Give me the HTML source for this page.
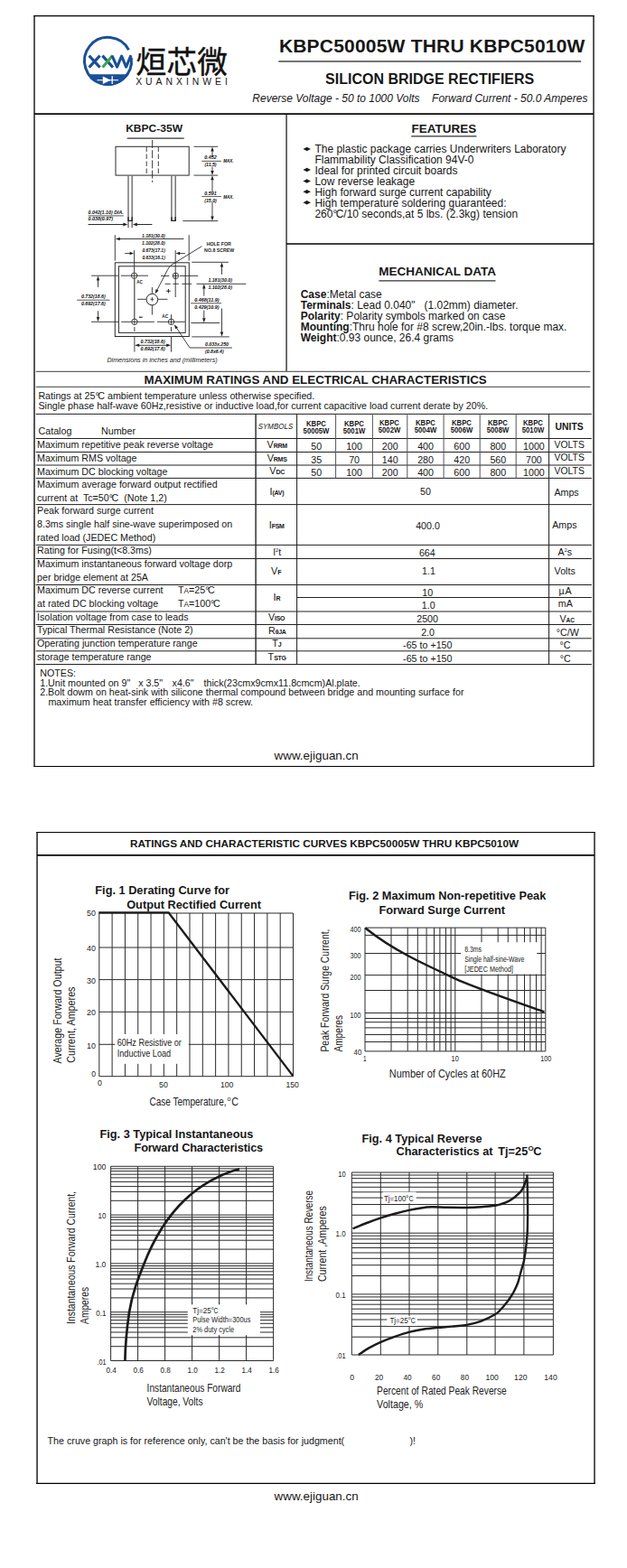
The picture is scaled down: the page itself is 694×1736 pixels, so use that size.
<!DOCTYPE html>
<html lang="en"><head><meta charset="utf-8"><title>KBPC50005W THRU KBPC5010W</title>
<style>
html,body{margin:0;padding:0;background:#fff}
body{width:694px;height:1736px;position:relative;overflow:hidden;font-family:"Liberation Sans",sans-serif;color:#161616}
.t{position:absolute;white-space:pre;line-height:1;margin:0;padding:0}
svg{position:absolute;left:0;top:0}
svg text{font-family:"Liberation Sans",sans-serif}
</style></head>
<body>
<svg width="694" height="1736" viewBox="0 0 694 1736">
<line x1="37.30" y1="17.55" x2="657.80" y2="17.55" stroke="#000" stroke-width="1.15"/>
<line x1="37.30" y1="848.45" x2="657.80" y2="848.45" stroke="#000" stroke-width="1.15"/>
<line x1="38.00" y1="17.00" x2="38.00" y2="849.00" stroke="#000" stroke-width="1.32"/>
<line x1="657.05" y1="17.00" x2="657.05" y2="849.00" stroke="#000" stroke-width="1.32"/>
<line x1="38.00" y1="126.10" x2="657.00" y2="126.10" stroke="#0a0a0a" stroke-width="1.6"/>
<line x1="317.05" y1="126.50" x2="317.05" y2="411.30" stroke="#000" stroke-width="1.15"/>
<line x1="317.05" y1="270.00" x2="657.00" y2="270.00" stroke="#000" stroke-width="1.4"/>
<line x1="39.70" y1="411.30" x2="653.30" y2="411.30" stroke="#666" stroke-width="1.3"/>
<line x1="39.70" y1="428.40" x2="653.30" y2="428.40" stroke="#666" stroke-width="1.3"/>
<g><path d="M145.25,63.78 A26.0,26.0 0 1 1 142.46,55.19" fill="none" stroke="#1c4f96" stroke-width="3.0"/><path d="M96.39,82.3 L142.61,82.3 A27.5,27.5 0 0 1 96.39,82.3 Z" fill="#1c4f96"/><line x1="107.50" y1="88.70" x2="131.00" y2="88.70" stroke="#fff" stroke-width="1.1"/><polygon points="113.8,84.4 113.8,93.0 122.6,88.7" fill="#fff"/><line x1="124.20" y1="84.30" x2="124.20" y2="93.10" stroke="#fff" stroke-width="1.3"/><path d="M98.6,61.6 L110.6,74.6 M110.6,61.6 L98.6,74.6" stroke="#1c4f96" stroke-width="3.1" fill="none"/><path d="M113.4,61.6 L125.0,74.6" stroke="#1c4f96" stroke-width="3.1" fill="none"/><path d="M124.6,61.6 L113.6,74.6" stroke="#3aa84a" stroke-width="3.1" fill="none"/><path d="M124.0,61.6 L129.6,74.1 L134.6,62.1 L139.6,74.1 L145.0,61.1" stroke="#1c4f96" stroke-width="3.1" fill="none" stroke-linejoin="round"/></g>
<text x="150.4 184.4 218.2" y="81.2" font-size="33.6" fill="#111" stroke="#111" stroke-width="0.44" style='font-family:"Liberation Sans","Noto Sans CJK SC",sans-serif'>烜芯微</text>
<text x="150.20" y="93.60" font-size="10.4" fill="#151515" letter-spacing="3.98">XUANXINWEI</text>
<line x1="308.30" y1="68.00" x2="643.20" y2="68.00" stroke="#444" stroke-width="1.4"/>
<g font-family='"Liberation Sans", sans-serif'><text x="139.20" y="145.70" font-size="11.8" font-weight="bold" textLength="62.80" lengthAdjust="spacingAndGlyphs" fill="#161616">KBPC-35W</text><line x1="140.70" y1="153.10" x2="203.70" y2="153.10" stroke="#333" stroke-width="1.1"/><rect x="128.00" y="162.30" width="81.20" height="31.80" stroke="#2a2a2a" stroke-width="1" fill="none"/><line x1="162.20" y1="162.50" x2="162.20" y2="194.00" stroke="#2a2a2a" stroke-width="0.9" stroke-dasharray="5.5 2.5"/><line x1="175.30" y1="162.50" x2="175.30" y2="194.00" stroke="#2a2a2a" stroke-width="0.9" stroke-dasharray="5.5 2.5"/><line x1="168.60" y1="155.00" x2="168.60" y2="201.90" stroke="#2a2a2a" stroke-width="0.9" stroke-dasharray="9 2.2"/><line x1="142.00" y1="194.60" x2="142.00" y2="252.30" stroke="#747474" stroke-width="1.5"/><line x1="146.20" y1="194.60" x2="146.20" y2="252.30" stroke="#747474" stroke-width="1.5"/><path d="M142.0,240.2 L142.0,244.4 L146.2,244.4 L146.2,240.2" fill="none" stroke="#222" stroke-width="1.3"/><line x1="189.90" y1="194.60" x2="189.90" y2="244.60" stroke="#747474" stroke-width="1.5"/><line x1="194.20" y1="194.60" x2="194.20" y2="244.60" stroke="#747474" stroke-width="1.5"/><path d="M189.9,240.2 L189.9,244.4 L194.2,244.4 L194.2,240.2" fill="none" stroke="#222" stroke-width="1.3"/><line x1="97.60" y1="248.50" x2="137.50" y2="248.50" stroke="#2a2a2a" stroke-width="1.0"/><polygon points="141.20,248.50 136.40,250.50 136.40,246.50" fill="#222"/><line x1="151.00" y1="248.50" x2="168.40" y2="248.50" stroke="#2a2a2a" stroke-width="1.0"/><polygon points="147.00,248.50 151.80,246.50 151.80,250.50" fill="#222"/><text x="97.60" y="237.20" font-size="5.5" font-weight="bold" font-style="italic" textLength="39.20" lengthAdjust="spacingAndGlyphs" fill="#0c0c0c">0.042(1.10) DIA.</text><line x1="97.60" y1="238.90" x2="136.80" y2="238.90" stroke="#2a2a2a" stroke-width="0.8"/><text x="97.60" y="244.30" font-size="5.5" font-weight="bold" font-style="italic" textLength="27.50" lengthAdjust="spacingAndGlyphs" fill="#0c0c0c">0.038(0.97)</text><line x1="214.50" y1="162.30" x2="241.20" y2="162.30" stroke="#2a2a2a" stroke-width="0.9"/><line x1="214.50" y1="194.10" x2="241.20" y2="194.10" stroke="#2a2a2a" stroke-width="0.9"/><line x1="202.30" y1="244.60" x2="241.20" y2="244.60" stroke="#2a2a2a" stroke-width="0.9"/><line x1="235.00" y1="165.00" x2="235.00" y2="174.00" stroke="#2a2a2a" stroke-width="0.9"/><polygon points="235.00,162.50 236.75,167.50 233.25,167.50" fill="#222"/><line x1="235.00" y1="184.50" x2="235.00" y2="191.00" stroke="#2a2a2a" stroke-width="0.9"/><polygon points="235.00,193.90 233.25,188.90 236.75,188.90" fill="#222"/><line x1="235.00" y1="197.00" x2="235.00" y2="212.50" stroke="#2a2a2a" stroke-width="0.9"/><polygon points="235.00,194.30 236.75,199.30 233.25,199.30" fill="#222"/><line x1="235.00" y1="224.00" x2="235.00" y2="242.00" stroke="#2a2a2a" stroke-width="0.9"/><polygon points="235.00,244.40 233.25,239.40 236.75,239.40" fill="#222"/><line x1="223.30" y1="178.40" x2="244.90" y2="178.40" stroke="#2a2a2a" stroke-width="0.8"/><text x="226.20" y="175.90" font-size="5.5" font-weight="bold" font-style="italic" textLength="13.50" lengthAdjust="spacingAndGlyphs" fill="#0c0c0c">0.452</text><text x="226.40" y="184.40" font-size="5.5" font-weight="bold" font-style="italic" textLength="13.20" lengthAdjust="spacingAndGlyphs" fill="#0c0c0c">(11.5)</text><text x="247.20" y="180.40" font-size="5.5" font-weight="bold" font-style="italic" textLength="11.50" lengthAdjust="spacingAndGlyphs" fill="#0c0c0c">MAX.</text><line x1="223.30" y1="217.60" x2="244.90" y2="217.60" stroke="#2a2a2a" stroke-width="0.8"/><text x="226.20" y="215.80" font-size="5.5" font-weight="bold" font-style="italic" textLength="13.50" lengthAdjust="spacingAndGlyphs" fill="#0c0c0c">0.591</text><text x="226.20" y="223.60" font-size="5.5" font-weight="bold" font-style="italic" textLength="13.60" lengthAdjust="spacingAndGlyphs" fill="#0c0c0c">(15.0)</text><text x="247.20" y="219.60" font-size="5.5" font-weight="bold" font-style="italic" textLength="11.50" lengthAdjust="spacingAndGlyphs" fill="#0c0c0c">MAX.</text><rect x="127.30" y="290.80" width="82.00" height="81.70" stroke="#2a2a2a" stroke-width="1" fill="none"/><rect x="131.40" y="294.80" width="73.80" height="73.60" stroke="#2a2a2a" stroke-width="1" fill="none"/><line x1="127.30" y1="260.20" x2="127.30" y2="288.70" stroke="#2a2a2a" stroke-width="0.9"/><line x1="209.20" y1="260.20" x2="209.20" y2="288.70" stroke="#2a2a2a" stroke-width="0.9"/><line x1="132.50" y1="264.50" x2="203.40" y2="264.50" stroke="#2a2a2a" stroke-width="0.9"/><polygon points="127.80,264.50 132.80,262.75 132.80,266.25" fill="#222"/><text x="157.00" y="262.80" font-size="5.5" font-weight="bold" font-style="italic" textLength="25.60" lengthAdjust="spacingAndGlyphs" fill="#0c0c0c">1.181(30.0)</text><text x="157.00" y="270.90" font-size="5.5" font-weight="bold" font-style="italic" textLength="25.60" lengthAdjust="spacingAndGlyphs" fill="#0c0c0c">1.102(28.0)</text><line x1="138.20" y1="280.60" x2="144.50" y2="280.60" stroke="#2a2a2a" stroke-width="0.9"/><polygon points="148.10,280.60 143.60,282.35 143.60,278.85" fill="#222"/><line x1="198.00" y1="280.60" x2="204.90" y2="280.60" stroke="#2a2a2a" stroke-width="0.9"/><polygon points="194.60,280.60 199.10,278.85 199.10,282.35" fill="#222"/><text x="157.40" y="278.90" font-size="5.5" font-weight="bold" font-style="italic" textLength="25.40" lengthAdjust="spacingAndGlyphs" fill="#0c0c0c">0.673(17.1)</text><text x="157.40" y="287.00" font-size="5.5" font-weight="bold" font-style="italic" textLength="25.40" lengthAdjust="spacingAndGlyphs" fill="#0c0c0c">0.633(16.1)</text><line x1="148.60" y1="277.10" x2="148.60" y2="301.80" stroke="#2a2a2a" stroke-width="0.9"/><line x1="148.80" y1="308.40" x2="148.80" y2="353.00" stroke="#555" stroke-width="1.3"/><line x1="194.20" y1="277.10" x2="194.20" y2="329.00" stroke="#2a2a2a" stroke-width="0.9"/><line x1="189.50" y1="348.20" x2="189.50" y2="353.00" stroke="#2a2a2a" stroke-width="0.9"/><circle cx="148.6" cy="305.2" r="3.2" fill="none" stroke="#2a2a2a" stroke-width="0.9"/><line x1="148.60" y1="302.00" x2="148.60" y2="308.40" stroke="#2a2a2a" stroke-width="0.8"/><circle cx="194.4" cy="305.4" r="3.2" fill="none" stroke="#2a2a2a" stroke-width="0.9"/><line x1="194.40" y1="302.20" x2="194.40" y2="308.60" stroke="#2a2a2a" stroke-width="0.8"/><circle cx="148.9" cy="356.3" r="3.2" fill="none" stroke="#2a2a2a" stroke-width="0.9"/><line x1="148.90" y1="353.10" x2="148.90" y2="359.50" stroke="#2a2a2a" stroke-width="0.8"/><circle cx="189.5" cy="356.3" r="3.2" fill="none" stroke="#2a2a2a" stroke-width="0.9"/><line x1="189.50" y1="353.10" x2="189.50" y2="359.50" stroke="#2a2a2a" stroke-width="0.8"/><line x1="101.10" y1="305.20" x2="130.80" y2="305.20" stroke="#2a2a2a" stroke-width="0.9"/><line x1="134.00" y1="305.20" x2="164.00" y2="305.20" stroke="#2a2a2a" stroke-width="0.9"/><line x1="178.00" y1="305.40" x2="187.30" y2="305.40" stroke="#2a2a2a" stroke-width="0.9"/><line x1="191.20" y1="305.40" x2="197.60" y2="305.40" stroke="#2a2a2a" stroke-width="0.9"/><line x1="199.00" y1="305.40" x2="219.30" y2="305.40" stroke="#2a2a2a" stroke-width="0.9"/><line x1="182.60" y1="314.30" x2="188.70" y2="314.30" stroke="#2a2a2a" stroke-width="0.9"/><line x1="191.30" y1="314.30" x2="197.80" y2="314.30" stroke="#2a2a2a" stroke-width="0.9"/><line x1="201.30" y1="314.30" x2="212.20" y2="314.30" stroke="#2a2a2a" stroke-width="0.9"/><line x1="217.50" y1="314.30" x2="272.30" y2="314.30" stroke="#2a2a2a" stroke-width="0.9"/><line x1="101.10" y1="356.30" x2="131.20" y2="356.30" stroke="#2a2a2a" stroke-width="0.9"/><line x1="134.20" y1="356.30" x2="170.90" y2="356.30" stroke="#2a2a2a" stroke-width="0.9"/><line x1="174.00" y1="356.30" x2="204.80" y2="356.30" stroke="#2a2a2a" stroke-width="0.9"/><line x1="211.30" y1="357.50" x2="243.10" y2="357.50" stroke="#2a2a2a" stroke-width="0.9"/><circle cx="168.4" cy="331.6" r="6.3" fill="none" stroke="#2a2a2a" stroke-width="1"/><line x1="168.40" y1="318.10" x2="168.40" y2="325.00" stroke="#2a2a2a" stroke-width="0.9"/><line x1="168.40" y1="337.60" x2="168.40" y2="348.50" stroke="#2a2a2a" stroke-width="0.9"/><line x1="152.20" y1="331.30" x2="162.10" y2="331.30" stroke="#2a2a2a" stroke-width="0.9"/><line x1="174.70" y1="331.30" x2="185.50" y2="331.30" stroke="#2a2a2a" stroke-width="0.9"/><line x1="166.40" y1="331.30" x2="170.40" y2="331.30" stroke="#2a2a2a" stroke-width="0.8"/><line x1="168.40" y1="329.00" x2="168.40" y2="333.60" stroke="#2a2a2a" stroke-width="0.8"/><text x="151.20" y="314.20" font-size="5.4" font-weight="bold" textLength="6.50" lengthAdjust="spacingAndGlyphs" fill="#222">AC</text><text x="179.20" y="352.20" font-size="5.4" font-weight="bold" textLength="6.90" lengthAdjust="spacingAndGlyphs" fill="#222">AC</text><line x1="184.10" y1="322.20" x2="188.70" y2="322.20" stroke="#223" stroke-width="1.0"/><line x1="186.40" y1="320.00" x2="186.40" y2="324.40" stroke="#223" stroke-width="1.0"/><line x1="153.90" y1="351.20" x2="157.70" y2="351.20" stroke="#223" stroke-width="1.2"/><path d="M223.4,272.6 L190.0,293.2 Q187.3,295.0 185.6,298.5 L173.2,322.4" fill="none" stroke="#2a2a2a" stroke-width="0.9"/><polygon points="171.70,325.30 172.50,320.08 175.52,321.65" fill="#222"/><text x="228.70" y="271.90" font-size="5.4" font-weight="bold" textLength="27.20" lengthAdjust="spacingAndGlyphs" fill="#222">HOLE FOR</text><text x="226.10" y="278.70" font-size="5.4" font-weight="bold" textLength="33.20" lengthAdjust="spacingAndGlyphs" fill="#222">NO.8 SCREW</text><line x1="212.30" y1="290.30" x2="252.90" y2="290.30" stroke="#2a2a2a" stroke-width="0.9"/><line x1="211.10" y1="335.80" x2="245.10" y2="335.80" stroke="#2a2a2a" stroke-width="0.8"/><line x1="212.30" y1="372.90" x2="253.80" y2="372.90" stroke="#2a2a2a" stroke-width="0.9"/><line x1="245.50" y1="293.50" x2="245.50" y2="303.90" stroke="#2a2a2a" stroke-width="0.9"/><polygon points="245.50,290.60 247.25,295.60 243.75,295.60" fill="#222"/><line x1="245.50" y1="341.50" x2="245.50" y2="369.50" stroke="#2a2a2a" stroke-width="0.9"/><polygon points="245.50,372.60 243.75,367.60 247.25,367.60" fill="#222"/><line x1="225.80" y1="317.50" x2="225.80" y2="327.60" stroke="#2a2a2a" stroke-width="0.9"/><polygon points="225.80,314.60 227.55,319.60 224.05,319.60" fill="#222"/><line x1="225.80" y1="343.50" x2="225.80" y2="354.00" stroke="#2a2a2a" stroke-width="0.9"/><polygon points="225.80,357.20 224.05,352.20 227.55,352.20" fill="#222"/><text x="230.40" y="312.10" font-size="5.5" font-weight="bold" font-style="italic" textLength="26.50" lengthAdjust="spacingAndGlyphs" fill="#0c0c0c">1.181(30.0)</text><text x="230.40" y="320.20" font-size="5.5" font-weight="bold" font-style="italic" textLength="26.50" lengthAdjust="spacingAndGlyphs" fill="#0c0c0c">1.102(28.0)</text><text x="215.20" y="334.00" font-size="5.5" font-weight="bold" font-style="italic" textLength="27.40" lengthAdjust="spacingAndGlyphs" fill="#0c0c0c">0.468(11.9)</text><text x="215.20" y="342.00" font-size="5.5" font-weight="bold" font-style="italic" textLength="27.40" lengthAdjust="spacingAndGlyphs" fill="#0c0c0c">0.429(10.9)</text><line x1="108.50" y1="308.50" x2="108.50" y2="317.90" stroke="#2a2a2a" stroke-width="0.9"/><polygon points="108.50,305.50 110.25,310.50 106.75,310.50" fill="#222"/><line x1="108.50" y1="344.30" x2="108.50" y2="353.00" stroke="#2a2a2a" stroke-width="0.9"/><polygon points="108.50,356.00 106.75,351.00 110.25,351.00" fill="#222"/><line x1="85.20" y1="332.20" x2="121.50" y2="332.20" stroke="#2a2a2a" stroke-width="0.8"/><text x="89.90" y="329.70" font-size="5.5" font-weight="bold" font-style="italic" textLength="26.90" lengthAdjust="spacingAndGlyphs" fill="#0c0c0c">0.732(18.6)</text><text x="89.90" y="337.80" font-size="5.5" font-weight="bold" font-style="italic" textLength="26.90" lengthAdjust="spacingAndGlyphs" fill="#0c0c0c">0.692(17.6)</text><line x1="148.90" y1="362.00" x2="148.90" y2="367.00" stroke="#2a2a2a" stroke-width="0.9"/><line x1="148.90" y1="372.50" x2="148.90" y2="389.60" stroke="#2a2a2a" stroke-width="0.9"/><line x1="189.50" y1="362.00" x2="189.50" y2="367.00" stroke="#2a2a2a" stroke-width="0.9"/><line x1="189.50" y1="372.50" x2="189.50" y2="389.60" stroke="#2a2a2a" stroke-width="0.9"/><line x1="152.50" y1="382.30" x2="186.00" y2="382.30" stroke="#2a2a2a" stroke-width="0.9"/><polygon points="149.20,382.30 154.20,380.55 154.20,384.05" fill="#222"/><polygon points="189.20,382.30 184.20,384.05 184.20,380.55" fill="#222"/><text x="155.50" y="380.00" font-size="5.5" font-weight="bold" font-style="italic" textLength="27.30" lengthAdjust="spacingAndGlyphs" fill="#0c0c0c">0.732(18.6)</text><text x="155.50" y="387.90" font-size="5.5" font-weight="bold" font-style="italic" textLength="27.30" lengthAdjust="spacingAndGlyphs" fill="#0c0c0c">0.692(17.6)</text><path d="M195.3,362.8 L210.0,385.0 L256.9,385.0" fill="none" stroke="#2a2a2a" stroke-width="0.9"/><polygon points="192.80,359.20 196.98,362.43 194.14,364.31" fill="#222"/><text x="227.00" y="383.00" font-size="5.5" font-weight="bold" font-style="italic" textLength="25.90" lengthAdjust="spacingAndGlyphs" fill="#0c0c0c">0.033x.250</text><text x="227.00" y="390.80" font-size="5.5" font-weight="bold" font-style="italic" textLength="20.70" lengthAdjust="spacingAndGlyphs" fill="#0c0c0c">(0.8x6.4)</text><text x="118.40" y="400.80" font-size="7.1" font-style="italic" textLength="122.20" lengthAdjust="spacingAndGlyphs" fill="#1a1a1a">Dimensions in inches and (millimeters)</text></g>
<line x1="455.20" y1="150.90" x2="527.50" y2="150.90" stroke="#333" stroke-width="1.4"/>
<path d="M335.4,164.90 L338.0,163.65 L339.7,162.65 L341.4,163.65 L344.0,164.90 L341.4,166.15 L339.7,167.15 L338.0,166.15 Z" fill="#1a1a1a"/>
<path d="M335.4,187.90 L338.0,186.65 L339.7,185.65 L341.4,186.65 L344.0,187.90 L341.4,189.15 L339.7,190.15 L338.0,189.15 Z" fill="#1a1a1a"/>
<path d="M335.4,200.40 L338.0,199.15 L339.7,198.15 L341.4,199.15 L344.0,200.40 L341.4,201.65 L339.7,202.65 L338.0,201.65 Z" fill="#1a1a1a"/>
<path d="M335.4,212.30 L338.0,211.05 L339.7,210.05 L341.4,211.05 L344.0,212.30 L341.4,213.55 L339.7,214.55 L338.0,213.55 Z" fill="#1a1a1a"/>
<path d="M335.4,224.20 L338.0,222.95 L339.7,221.95 L341.4,222.95 L344.0,224.20 L341.4,225.45 L339.7,226.45 L338.0,225.45 Z" fill="#1a1a1a"/>
<line x1="419.40" y1="310.90" x2="548.50" y2="310.90" stroke="#333" stroke-width="1.4"/>
<line x1="39.70" y1="458.40" x2="654.90" y2="458.40" stroke="#222" stroke-width="1.0"/>
<line x1="39.70" y1="485.50" x2="654.90" y2="485.50" stroke="#222" stroke-width="1.0"/>
<line x1="39.70" y1="500.50" x2="654.90" y2="500.50" stroke="#222" stroke-width="1.0"/>
<line x1="39.70" y1="515.00" x2="654.90" y2="515.00" stroke="#222" stroke-width="1.0"/>
<line x1="39.70" y1="529.40" x2="654.90" y2="529.40" stroke="#222" stroke-width="1.0"/>
<line x1="39.70" y1="558.60" x2="654.90" y2="558.60" stroke="#222" stroke-width="1.0"/>
<line x1="39.70" y1="603.40" x2="654.90" y2="603.40" stroke="#222" stroke-width="1.0"/>
<line x1="39.70" y1="618.50" x2="654.90" y2="618.50" stroke="#222" stroke-width="1.0"/>
<line x1="39.70" y1="647.50" x2="654.90" y2="647.50" stroke="#222" stroke-width="1.0"/>
<line x1="39.70" y1="677.00" x2="654.90" y2="677.00" stroke="#222" stroke-width="1.0"/>
<line x1="39.70" y1="691.50" x2="654.90" y2="691.50" stroke="#222" stroke-width="1.0"/>
<line x1="39.70" y1="706.80" x2="654.90" y2="706.80" stroke="#222" stroke-width="1.0"/>
<line x1="39.70" y1="720.80" x2="654.90" y2="720.80" stroke="#222" stroke-width="1.0"/>
<line x1="39.70" y1="735.50" x2="654.90" y2="735.50" stroke="#222" stroke-width="1.0"/>
<line x1="329.00" y1="661.50" x2="654.90" y2="661.50" stroke="#222" stroke-width="1.0"/>
<line x1="283.10" y1="458.40" x2="283.10" y2="735.50" stroke="#222" stroke-width="1.4"/>
<line x1="328.60" y1="458.40" x2="328.60" y2="735.50" stroke="#222" stroke-width="1.05"/>
<line x1="607.60" y1="458.40" x2="607.60" y2="735.50" stroke="#222" stroke-width="1.05"/>
<line x1="371.60" y1="458.40" x2="371.60" y2="529.40" stroke="#555" stroke-width="1"/>
<line x1="412.40" y1="458.40" x2="412.40" y2="529.40" stroke="#555" stroke-width="1"/>
<line x1="450.80" y1="458.40" x2="450.80" y2="529.40" stroke="#555" stroke-width="1"/>
<line x1="491.10" y1="458.40" x2="491.10" y2="529.40" stroke="#555" stroke-width="1"/>
<line x1="531.20" y1="458.40" x2="531.20" y2="529.40" stroke="#555" stroke-width="1"/>
<line x1="571.20" y1="458.40" x2="571.20" y2="529.40" stroke="#555" stroke-width="1"/>
<g font-family='"Liberation Sans", sans-serif'><line x1="40.30" y1="921.45" x2="658.80" y2="921.45" stroke="#000" stroke-width="1.15"/><line x1="40.30" y1="1642.40" x2="658.80" y2="1642.40" stroke="#000" stroke-width="1.15"/><line x1="41.05" y1="921.00" x2="41.05" y2="1643.00" stroke="#000" stroke-width="1.32"/><line x1="658.05" y1="921.00" x2="658.05" y2="1643.00" stroke="#000" stroke-width="1.32"/><line x1="41.00" y1="946.95" x2="658.00" y2="946.95" stroke="#0a0a0a" stroke-width="1.7"/><line x1="109.80" y1="1011.00" x2="109.80" y2="1191.70" stroke="#2b2b2b" stroke-width="1"/><line x1="124.11" y1="1011.00" x2="124.11" y2="1191.70" stroke="#2b2b2b" stroke-width="1"/><line x1="138.43" y1="1011.00" x2="138.43" y2="1145.00" stroke="#2b2b2b" stroke-width="1"/><line x1="138.43" y1="1177.80" x2="138.43" y2="1191.70" stroke="#2b2b2b" stroke-width="1"/><line x1="152.74" y1="1011.00" x2="152.74" y2="1145.00" stroke="#2b2b2b" stroke-width="1"/><line x1="152.74" y1="1177.80" x2="152.74" y2="1191.70" stroke="#2b2b2b" stroke-width="1"/><line x1="167.05" y1="1011.00" x2="167.05" y2="1145.00" stroke="#2b2b2b" stroke-width="1"/><line x1="167.05" y1="1177.80" x2="167.05" y2="1191.70" stroke="#2b2b2b" stroke-width="1"/><line x1="181.37" y1="1011.00" x2="181.37" y2="1145.00" stroke="#2b2b2b" stroke-width="1"/><line x1="181.37" y1="1177.80" x2="181.37" y2="1191.70" stroke="#2b2b2b" stroke-width="1"/><line x1="195.68" y1="1011.00" x2="195.68" y2="1145.00" stroke="#2b2b2b" stroke-width="1"/><line x1="195.68" y1="1177.80" x2="195.68" y2="1191.70" stroke="#2b2b2b" stroke-width="1"/><line x1="209.99" y1="1011.00" x2="209.99" y2="1191.70" stroke="#2b2b2b" stroke-width="1"/><line x1="224.31" y1="1011.00" x2="224.31" y2="1191.70" stroke="#2b2b2b" stroke-width="1"/><line x1="238.62" y1="1011.00" x2="238.62" y2="1191.70" stroke="#2b2b2b" stroke-width="1"/><line x1="252.93" y1="1011.00" x2="252.93" y2="1191.70" stroke="#2b2b2b" stroke-width="1"/><line x1="267.25" y1="1011.00" x2="267.25" y2="1191.70" stroke="#2b2b2b" stroke-width="1"/><line x1="281.56" y1="1011.00" x2="281.56" y2="1191.70" stroke="#2b2b2b" stroke-width="1"/><line x1="295.87" y1="1011.00" x2="295.87" y2="1191.70" stroke="#2b2b2b" stroke-width="1"/><line x1="310.19" y1="1011.00" x2="310.19" y2="1191.70" stroke="#2b2b2b" stroke-width="1"/><line x1="324.50" y1="1011.00" x2="324.50" y2="1191.70" stroke="#2b2b2b" stroke-width="1"/><line x1="109.80" y1="1011.00" x2="324.50" y2="1011.00" stroke="#2b2b2b" stroke-width="1"/><line x1="109.80" y1="1049.00" x2="324.50" y2="1049.00" stroke="#2b2b2b" stroke-width="1"/><line x1="109.80" y1="1084.60" x2="324.50" y2="1084.60" stroke="#2b2b2b" stroke-width="1"/><line x1="109.80" y1="1120.30" x2="324.50" y2="1120.30" stroke="#2b2b2b" stroke-width="1"/><line x1="109.80" y1="1156.30" x2="127.30" y2="1156.30" stroke="#2b2b2b" stroke-width="1"/><line x1="208.80" y1="1156.30" x2="324.50" y2="1156.30" stroke="#2b2b2b" stroke-width="1"/><line x1="109.80" y1="1191.70" x2="324.50" y2="1191.70" stroke="#2b2b2b" stroke-width="1"/><path d="M109.3,1010.4 L186.60,1010.4 L324.20,1191.10" fill="none" stroke="#1c1a1a" stroke-width="2.35" stroke-linejoin="miter"/><text x="106.00" y="1013.80" font-size="9.3" text-anchor="end" textLength="9.90" lengthAdjust="spacingAndGlyphs" fill="#222">50</text><text x="106.00" y="1053.00" font-size="9.3" text-anchor="end" textLength="9.90" lengthAdjust="spacingAndGlyphs" fill="#222">40</text><text x="106.00" y="1088.50" font-size="9.3" text-anchor="end" textLength="9.90" lengthAdjust="spacingAndGlyphs" fill="#222">30</text><text x="106.00" y="1123.90" font-size="9.3" text-anchor="end" textLength="9.90" lengthAdjust="spacingAndGlyphs" fill="#222">20</text><text x="106.00" y="1160.80" font-size="9.3" text-anchor="end" textLength="9.90" lengthAdjust="spacingAndGlyphs" fill="#222">10</text><text x="106.00" y="1191.60" font-size="9.3" text-anchor="end" textLength="4.80" lengthAdjust="spacingAndGlyphs" fill="#222">0</text><text x="110.40" y="1202.20" font-size="9.6" text-anchor="middle" textLength="4.90" lengthAdjust="spacingAndGlyphs" fill="#222">0</text><text x="180.90" y="1203.70" font-size="9.6" text-anchor="middle" textLength="9.80" lengthAdjust="spacingAndGlyphs" fill="#222">50</text><text x="251.20" y="1203.70" font-size="9.6" text-anchor="middle" textLength="14.40" lengthAdjust="spacingAndGlyphs" fill="#222">100</text><text x="323.70" y="1203.70" font-size="9.6" text-anchor="middle" textLength="14.40" lengthAdjust="spacingAndGlyphs" fill="#222">150</text><text x="129.70" y="1157.60" font-size="10.3" textLength="71.20" lengthAdjust="spacingAndGlyphs" fill="#222">60Hz Resistive or</text><text x="129.70" y="1170.30" font-size="10.3" textLength="59.50" lengthAdjust="spacingAndGlyphs" fill="#222">Inductive Load</text><text x="165.40" y="1224.20" font-size="13.3" textLength="85.20" lengthAdjust="spacingAndGlyphs" fill="#222">Case Temperature,</text><text x="251.40" y="1219.40" font-size="7.5" textLength="4.00" lengthAdjust="spacingAndGlyphs" fill="#222">o</text><text x="256.20" y="1224.20" font-size="13.3" textLength="7.70" lengthAdjust="spacingAndGlyphs" fill="#222">C</text><text x="68.20" y="1177.50" font-size="13.3" textLength="117.00" lengthAdjust="spacingAndGlyphs" fill="#222" transform="rotate(-90 68.20 1177.50)">Average Forward Output</text><text x="83.30" y="1176.80" font-size="13.3" textLength="84.30" lengthAdjust="spacingAndGlyphs" fill="#222" transform="rotate(-90 83.30 1176.80)">Current, Amperes</text><line x1="404.00" y1="1027.10" x2="404.00" y2="1163.90" stroke="#2b2b2b" stroke-width="1"/><line x1="433.00" y1="1027.10" x2="433.00" y2="1163.90" stroke="#2b2b2b" stroke-width="1"/><line x1="451.20" y1="1027.10" x2="451.20" y2="1163.90" stroke="#2b2b2b" stroke-width="1"/><line x1="462.30" y1="1027.10" x2="462.30" y2="1163.90" stroke="#2b2b2b" stroke-width="1"/><line x1="472.10" y1="1027.10" x2="472.10" y2="1163.90" stroke="#2b2b2b" stroke-width="1"/><line x1="480.50" y1="1027.10" x2="480.50" y2="1163.90" stroke="#2b2b2b" stroke-width="1"/><line x1="486.90" y1="1027.10" x2="486.90" y2="1163.90" stroke="#2b2b2b" stroke-width="1"/><line x1="493.50" y1="1027.10" x2="493.50" y2="1163.90" stroke="#2b2b2b" stroke-width="1"/><line x1="499.10" y1="1027.10" x2="499.10" y2="1163.90" stroke="#2b2b2b" stroke-width="1"/><line x1="503.80" y1="1027.10" x2="503.80" y2="1163.90" stroke="#2b2b2b" stroke-width="1"/><line x1="533.00" y1="1027.10" x2="533.00" y2="1163.90" stroke="#2b2b2b" stroke-width="1"/><line x1="551.20" y1="1027.10" x2="551.20" y2="1163.90" stroke="#2b2b2b" stroke-width="1"/><line x1="562.30" y1="1027.10" x2="562.30" y2="1163.90" stroke="#2b2b2b" stroke-width="1"/><line x1="572.10" y1="1027.10" x2="572.10" y2="1163.90" stroke="#2b2b2b" stroke-width="1"/><line x1="580.50" y1="1027.10" x2="580.50" y2="1163.90" stroke="#2b2b2b" stroke-width="1"/><line x1="586.90" y1="1027.10" x2="586.90" y2="1163.90" stroke="#2b2b2b" stroke-width="1"/><line x1="593.50" y1="1027.10" x2="593.50" y2="1163.90" stroke="#2b2b2b" stroke-width="1"/><line x1="599.10" y1="1027.10" x2="599.10" y2="1163.90" stroke="#2b2b2b" stroke-width="1"/><line x1="603.80" y1="1027.10" x2="603.80" y2="1163.90" stroke="#2b2b2b" stroke-width="1"/><line x1="404.00" y1="1027.10" x2="603.80" y2="1027.10" stroke="#2b2b2b" stroke-width="1"/><line x1="404.00" y1="1035.40" x2="603.80" y2="1035.40" stroke="#2b2b2b" stroke-width="1"/><line x1="404.00" y1="1055.50" x2="603.80" y2="1055.50" stroke="#2b2b2b" stroke-width="1"/><line x1="404.00" y1="1079.60" x2="603.80" y2="1079.60" stroke="#2b2b2b" stroke-width="1"/><line x1="404.00" y1="1096.50" x2="603.80" y2="1096.50" stroke="#2b2b2b" stroke-width="1"/><line x1="404.00" y1="1121.50" x2="603.80" y2="1121.50" stroke="#2b2b2b" stroke-width="1"/><line x1="404.00" y1="1127.50" x2="603.80" y2="1127.50" stroke="#2b2b2b" stroke-width="1"/><line x1="404.00" y1="1131.70" x2="603.80" y2="1131.70" stroke="#2b2b2b" stroke-width="1"/><line x1="404.00" y1="1137.90" x2="603.80" y2="1137.90" stroke="#2b2b2b" stroke-width="1"/><line x1="404.00" y1="1145.50" x2="603.80" y2="1145.50" stroke="#2b2b2b" stroke-width="1"/><line x1="404.00" y1="1153.50" x2="603.80" y2="1153.50" stroke="#2b2b2b" stroke-width="1"/><line x1="404.00" y1="1163.90" x2="603.80" y2="1163.90" stroke="#2b2b2b" stroke-width="1"/><rect x="510.2" y="1043.2" width="84.1" height="35.3" fill="#fff"/><path d="M404.4,1027.6 C420,1040 436,1050 451.4,1058.0 C470,1068 488,1076 509,1085.8 C540,1098.5 572,1109.5 602.4,1120.2" fill="none" stroke="#1c1a1a" stroke-width="2.5"/><text x="514.20" y="1053.70" font-size="8.3" textLength="18.80" lengthAdjust="spacingAndGlyphs" fill="#222">8.3ms</text><text x="514.20" y="1064.80" font-size="8.3" textLength="66.00" lengthAdjust="spacingAndGlyphs" fill="#222">Single half-sine-Wave</text><text x="514.20" y="1075.90" font-size="8.3" textLength="53.90" lengthAdjust="spacingAndGlyphs" fill="#222">[JEDEC Method]</text><text x="399.40" y="1031.60" font-size="9.4" text-anchor="end" textLength="12.00" lengthAdjust="spacingAndGlyphs" fill="#222">400</text><text x="399.40" y="1060.60" font-size="9.4" text-anchor="end" textLength="12.00" lengthAdjust="spacingAndGlyphs" fill="#222">300</text><text x="399.40" y="1084.70" font-size="9.4" text-anchor="end" textLength="12.00" lengthAdjust="spacingAndGlyphs" fill="#222">200</text><text x="399.40" y="1126.70" font-size="9.4" text-anchor="end" textLength="12.00" lengthAdjust="spacingAndGlyphs" fill="#222">100</text><text x="400.40" y="1168.20" font-size="9.4" text-anchor="end" textLength="8.80" lengthAdjust="spacingAndGlyphs" fill="#222">40</text><text x="403.90" y="1175.20" font-size="9.3" text-anchor="middle" textLength="3.60" lengthAdjust="spacingAndGlyphs" fill="#222">1</text><text x="503.70" y="1175.20" font-size="9.3" text-anchor="middle" textLength="8.20" lengthAdjust="spacingAndGlyphs" fill="#222">10</text><text x="604.20" y="1175.20" font-size="9.3" text-anchor="middle" textLength="12.00" lengthAdjust="spacingAndGlyphs" fill="#222">100</text><text x="430.80" y="1193.30" font-size="12.9" textLength="129.00" lengthAdjust="spacingAndGlyphs" fill="#222">Number of Cycles at 60HZ</text><text x="364.20" y="1164.60" font-size="13.2" textLength="136.10" lengthAdjust="spacingAndGlyphs" fill="#222" transform="rotate(-90 364.20 1164.60)">Peak Forward Surge Current,</text><text x="379.40" y="1164.60" font-size="13.2" textLength="40.60" lengthAdjust="spacingAndGlyphs" fill="#222" transform="rotate(-90 379.40 1164.60)">Amperes</text><line x1="122.60" y1="1291.30" x2="122.60" y2="1506.50" stroke="#2b2b2b" stroke-width="1"/><line x1="152.60" y1="1291.30" x2="152.60" y2="1506.50" stroke="#2b2b2b" stroke-width="1"/><line x1="182.60" y1="1291.30" x2="182.60" y2="1506.50" stroke="#2b2b2b" stroke-width="1"/><line x1="212.60" y1="1291.30" x2="212.60" y2="1506.50" stroke="#2b2b2b" stroke-width="1"/><line x1="242.60" y1="1291.30" x2="242.60" y2="1506.50" stroke="#2b2b2b" stroke-width="1"/><line x1="272.60" y1="1291.30" x2="272.60" y2="1506.50" stroke="#2b2b2b" stroke-width="1"/><line x1="302.60" y1="1291.30" x2="302.60" y2="1506.50" stroke="#2b2b2b" stroke-width="1"/><line x1="122.60" y1="1291.30" x2="302.60" y2="1291.30" stroke="#2b2b2b" stroke-width="1"/><line x1="122.60" y1="1293.90" x2="302.60" y2="1293.90" stroke="#2b2b2b" stroke-width="1"/><line x1="122.60" y1="1296.60" x2="302.60" y2="1296.60" stroke="#2b2b2b" stroke-width="1"/><line x1="122.60" y1="1300.20" x2="302.60" y2="1300.20" stroke="#2b2b2b" stroke-width="1"/><line x1="122.60" y1="1303.90" x2="302.60" y2="1303.90" stroke="#2b2b2b" stroke-width="1"/><line x1="122.60" y1="1308.40" x2="302.60" y2="1308.40" stroke="#2b2b2b" stroke-width="1"/><line x1="122.60" y1="1313.60" x2="302.60" y2="1313.60" stroke="#2b2b2b" stroke-width="1"/><line x1="122.60" y1="1319.40" x2="302.60" y2="1319.40" stroke="#2b2b2b" stroke-width="1"/><line x1="122.60" y1="1329.30" x2="302.60" y2="1329.30" stroke="#2b2b2b" stroke-width="1"/><line x1="122.60" y1="1345.10" x2="302.60" y2="1345.10" stroke="#2b2b2b" stroke-width="1"/><line x1="122.60" y1="1347.70" x2="302.60" y2="1347.70" stroke="#2b2b2b" stroke-width="1"/><line x1="122.60" y1="1350.40" x2="302.60" y2="1350.40" stroke="#2b2b2b" stroke-width="1"/><line x1="122.60" y1="1354.00" x2="302.60" y2="1354.00" stroke="#2b2b2b" stroke-width="1"/><line x1="122.60" y1="1357.70" x2="302.60" y2="1357.70" stroke="#2b2b2b" stroke-width="1"/><line x1="122.60" y1="1362.20" x2="302.60" y2="1362.20" stroke="#2b2b2b" stroke-width="1"/><line x1="122.60" y1="1367.40" x2="302.60" y2="1367.40" stroke="#2b2b2b" stroke-width="1"/><line x1="122.60" y1="1373.20" x2="302.60" y2="1373.20" stroke="#2b2b2b" stroke-width="1"/><line x1="122.60" y1="1383.10" x2="302.60" y2="1383.10" stroke="#2b2b2b" stroke-width="1"/><line x1="122.60" y1="1398.90" x2="302.60" y2="1398.90" stroke="#2b2b2b" stroke-width="1"/><line x1="122.60" y1="1401.50" x2="302.60" y2="1401.50" stroke="#2b2b2b" stroke-width="1"/><line x1="122.60" y1="1404.20" x2="302.60" y2="1404.20" stroke="#2b2b2b" stroke-width="1"/><line x1="122.60" y1="1407.80" x2="302.60" y2="1407.80" stroke="#2b2b2b" stroke-width="1"/><line x1="122.60" y1="1411.50" x2="302.60" y2="1411.50" stroke="#2b2b2b" stroke-width="1"/><line x1="122.60" y1="1416.00" x2="302.60" y2="1416.00" stroke="#2b2b2b" stroke-width="1"/><line x1="122.60" y1="1421.20" x2="302.60" y2="1421.20" stroke="#2b2b2b" stroke-width="1"/><line x1="122.60" y1="1427.00" x2="302.60" y2="1427.00" stroke="#2b2b2b" stroke-width="1"/><line x1="122.60" y1="1436.90" x2="302.60" y2="1436.90" stroke="#2b2b2b" stroke-width="1"/><line x1="122.60" y1="1452.70" x2="302.60" y2="1452.70" stroke="#2b2b2b" stroke-width="1"/><line x1="122.60" y1="1455.30" x2="302.60" y2="1455.30" stroke="#2b2b2b" stroke-width="1"/><line x1="122.60" y1="1458.00" x2="302.60" y2="1458.00" stroke="#2b2b2b" stroke-width="1"/><line x1="122.60" y1="1461.60" x2="302.60" y2="1461.60" stroke="#2b2b2b" stroke-width="1"/><line x1="122.60" y1="1465.30" x2="302.60" y2="1465.30" stroke="#2b2b2b" stroke-width="1"/><line x1="122.60" y1="1469.80" x2="302.60" y2="1469.80" stroke="#2b2b2b" stroke-width="1"/><line x1="122.60" y1="1475.00" x2="302.60" y2="1475.00" stroke="#2b2b2b" stroke-width="1"/><line x1="122.60" y1="1480.80" x2="302.60" y2="1480.80" stroke="#2b2b2b" stroke-width="1"/><line x1="122.60" y1="1490.70" x2="302.60" y2="1490.70" stroke="#2b2b2b" stroke-width="1"/><line x1="122.60" y1="1506.50" x2="302.60" y2="1506.50" stroke="#2b2b2b" stroke-width="1"/><rect x="207.8" y="1443.4" width="80.1" height="35.7" fill="#fff"/><line x1="212.65" y1="1442.00" x2="212.65" y2="1444.40" stroke="#2b2b2b" stroke-width="1"/><line x1="212.65" y1="1478.20" x2="212.65" y2="1480.50" stroke="#2b2b2b" stroke-width="1"/><line x1="242.60" y1="1442.00" x2="242.60" y2="1444.40" stroke="#2b2b2b" stroke-width="1"/><line x1="242.60" y1="1478.20" x2="242.60" y2="1480.50" stroke="#2b2b2b" stroke-width="1"/><line x1="272.60" y1="1442.00" x2="272.60" y2="1444.40" stroke="#2b2b2b" stroke-width="1"/><line x1="272.60" y1="1478.20" x2="272.60" y2="1480.50" stroke="#2b2b2b" stroke-width="1"/><path d="M138.4,1506.8 C138.6,1492 139.4,1478 143.0,1453.0 C146.5,1432 152,1418 159.1,1400.0 C170,1372 186,1346 205,1328 C222,1312 245,1299 265.0,1294.3" fill="none" stroke="#1c1a1a" stroke-width="2.7"/><text x="213.30" y="1454.10" font-size="8.2" textLength="20.60" lengthAdjust="spacingAndGlyphs" fill="#222">Tj=25</text><text x="234.00" y="1450.20" font-size="5.2" textLength="2.60" lengthAdjust="spacingAndGlyphs" fill="#222">o</text><text x="236.60" y="1454.10" font-size="8.2" textLength="5.00" lengthAdjust="spacingAndGlyphs" fill="#222">C</text><text x="213.30" y="1463.60" font-size="8.2" textLength="64.10" lengthAdjust="spacingAndGlyphs" fill="#222">Pulse Width=300us</text><text x="213.30" y="1474.60" font-size="8.2" textLength="45.80" lengthAdjust="spacingAndGlyphs" fill="#222">2% duty cycle</text><text x="117.40" y="1294.90" font-size="9.6" text-anchor="end" textLength="14.60" lengthAdjust="spacingAndGlyphs" fill="#222">100</text><text x="117.40" y="1349.40" font-size="9.6" text-anchor="end" textLength="8.80" lengthAdjust="spacingAndGlyphs" fill="#222">10</text><text x="117.40" y="1402.70" font-size="9.6" text-anchor="end" textLength="12.00" lengthAdjust="spacingAndGlyphs" fill="#222">1.0</text><text x="117.40" y="1456.90" font-size="9.6" text-anchor="end" textLength="11.20" lengthAdjust="spacingAndGlyphs" fill="#222">0.1</text><text x="117.40" y="1510.70" font-size="9.6" text-anchor="end" textLength="10.00" lengthAdjust="spacingAndGlyphs" fill="#222">.01</text><text x="123.10" y="1519.90" font-size="9.8" text-anchor="middle" textLength="11.30" lengthAdjust="spacingAndGlyphs" fill="#222">0.4</text><text x="153.10" y="1519.90" font-size="9.8" text-anchor="middle" textLength="11.30" lengthAdjust="spacingAndGlyphs" fill="#222">0.6</text><text x="183.10" y="1519.90" font-size="9.8" text-anchor="middle" textLength="11.30" lengthAdjust="spacingAndGlyphs" fill="#222">0.8</text><text x="213.10" y="1519.90" font-size="9.8" text-anchor="middle" textLength="11.30" lengthAdjust="spacingAndGlyphs" fill="#222">1.0</text><text x="243.10" y="1519.90" font-size="9.8" text-anchor="middle" textLength="11.30" lengthAdjust="spacingAndGlyphs" fill="#222">1.2</text><text x="273.10" y="1519.90" font-size="9.8" text-anchor="middle" textLength="11.30" lengthAdjust="spacingAndGlyphs" fill="#222">1.4</text><text x="303.10" y="1519.90" font-size="9.8" text-anchor="middle" textLength="11.30" lengthAdjust="spacingAndGlyphs" fill="#222">1.6</text><text x="162.60" y="1540.60" font-size="12.6" textLength="103.80" lengthAdjust="spacingAndGlyphs" fill="#222">Instantaneous Forward</text><text x="162.60" y="1555.60" font-size="12.6" textLength="61.90" lengthAdjust="spacingAndGlyphs" fill="#222">Voltage, Volts</text><text x="83.10" y="1465.90" font-size="13.0" textLength="146.90" lengthAdjust="spacingAndGlyphs" fill="#222" transform="rotate(-90 83.10 1465.90)">Instantaneous Forward Current,</text><text x="98.30" y="1465.90" font-size="13.0" textLength="40.90" lengthAdjust="spacingAndGlyphs" fill="#222" transform="rotate(-90 98.30 1465.90)">Amperes</text><line x1="389.30" y1="1298.00" x2="389.30" y2="1500.00" stroke="#2b2b2b" stroke-width="1"/><line x1="421.30" y1="1298.00" x2="421.30" y2="1500.00" stroke="#2b2b2b" stroke-width="1"/><line x1="453.00" y1="1298.00" x2="453.00" y2="1500.00" stroke="#2b2b2b" stroke-width="1"/><line x1="484.80" y1="1298.00" x2="484.80" y2="1500.00" stroke="#2b2b2b" stroke-width="1"/><line x1="516.80" y1="1298.00" x2="516.80" y2="1500.00" stroke="#2b2b2b" stroke-width="1"/><line x1="548.10" y1="1298.00" x2="548.10" y2="1500.00" stroke="#2b2b2b" stroke-width="1"/><line x1="579.90" y1="1298.00" x2="579.90" y2="1500.00" stroke="#2b2b2b" stroke-width="1"/><line x1="612.40" y1="1298.00" x2="612.40" y2="1500.00" stroke="#2b2b2b" stroke-width="1"/><line x1="389.30" y1="1298.00" x2="612.40" y2="1298.00" stroke="#2b2b2b" stroke-width="1"/><line x1="389.30" y1="1301.00" x2="612.40" y2="1301.00" stroke="#2b2b2b" stroke-width="1"/><line x1="389.30" y1="1304.65" x2="612.40" y2="1304.65" stroke="#2b2b2b" stroke-width="1"/><line x1="389.30" y1="1309.30" x2="612.40" y2="1309.30" stroke="#2b2b2b" stroke-width="1"/><line x1="389.30" y1="1314.30" x2="612.40" y2="1314.30" stroke="#2b2b2b" stroke-width="1"/><line x1="389.30" y1="1319.80" x2="612.40" y2="1319.80" stroke="#2b2b2b" stroke-width="1"/><line x1="389.30" y1="1326.10" x2="612.40" y2="1326.10" stroke="#2b2b2b" stroke-width="1"/><line x1="389.30" y1="1333.50" x2="612.40" y2="1333.50" stroke="#2b2b2b" stroke-width="1"/><line x1="389.30" y1="1345.30" x2="612.40" y2="1345.30" stroke="#2b2b2b" stroke-width="1"/><line x1="389.30" y1="1365.20" x2="612.40" y2="1365.20" stroke="#2b2b2b" stroke-width="1"/><line x1="389.30" y1="1368.20" x2="612.40" y2="1368.20" stroke="#2b2b2b" stroke-width="1"/><line x1="389.30" y1="1371.85" x2="612.40" y2="1371.85" stroke="#2b2b2b" stroke-width="1"/><line x1="389.30" y1="1376.50" x2="612.40" y2="1376.50" stroke="#2b2b2b" stroke-width="1"/><line x1="389.30" y1="1381.50" x2="612.40" y2="1381.50" stroke="#2b2b2b" stroke-width="1"/><line x1="389.30" y1="1387.00" x2="612.40" y2="1387.00" stroke="#2b2b2b" stroke-width="1"/><line x1="389.30" y1="1393.30" x2="612.40" y2="1393.30" stroke="#2b2b2b" stroke-width="1"/><line x1="389.30" y1="1400.70" x2="612.40" y2="1400.70" stroke="#2b2b2b" stroke-width="1"/><line x1="389.30" y1="1412.50" x2="612.40" y2="1412.50" stroke="#2b2b2b" stroke-width="1"/><line x1="389.30" y1="1432.90" x2="612.40" y2="1432.90" stroke="#2b2b2b" stroke-width="1"/><line x1="389.30" y1="1435.90" x2="612.40" y2="1435.90" stroke="#2b2b2b" stroke-width="1"/><line x1="389.30" y1="1439.55" x2="612.40" y2="1439.55" stroke="#2b2b2b" stroke-width="1"/><line x1="389.30" y1="1444.20" x2="612.40" y2="1444.20" stroke="#2b2b2b" stroke-width="1"/><line x1="389.30" y1="1449.20" x2="612.40" y2="1449.20" stroke="#2b2b2b" stroke-width="1"/><line x1="389.30" y1="1454.70" x2="612.40" y2="1454.70" stroke="#2b2b2b" stroke-width="1"/><line x1="389.30" y1="1461.00" x2="612.40" y2="1461.00" stroke="#2b2b2b" stroke-width="1"/><line x1="389.30" y1="1468.40" x2="612.40" y2="1468.40" stroke="#2b2b2b" stroke-width="1"/><line x1="389.30" y1="1480.20" x2="612.40" y2="1480.20" stroke="#2b2b2b" stroke-width="1"/><line x1="389.30" y1="1500.00" x2="612.40" y2="1500.00" stroke="#2b2b2b" stroke-width="1"/><rect x="423.8" y="1319.6" width="36.8" height="12.6" fill="#fff"/><rect x="428.4" y="1457.0" width="33.4" height="11.0" fill="#fff"/><path d="M391.50,1359.90 C393.92,1358.92 401.00,1355.92 406.00,1354.00 C411.00,1352.08 416.33,1350.10 421.50,1348.40 C426.67,1346.70 431.82,1345.22 437.00,1343.80 C442.18,1342.38 447.77,1340.97 452.60,1339.90 C457.43,1338.83 461.78,1338.00 466.00,1337.40 C470.22,1336.80 473.07,1336.40 477.90,1336.30 C482.73,1336.20 488.58,1336.70 495.00,1336.80 C501.42,1336.90 510.07,1337.00 516.40,1336.90 C522.73,1336.80 527.73,1336.55 533.00,1336.20 C538.27,1335.85 544.33,1335.33 548.00,1334.80 C551.67,1334.27 552.50,1333.83 555.00,1333.00 C557.50,1332.17 560.50,1331.10 563.00,1329.80 C565.50,1328.50 568.17,1326.57 570.00,1325.20 C571.83,1323.83 572.75,1322.85 574.00,1321.60 C575.25,1320.35 576.53,1319.03 577.50,1317.70 C578.47,1316.37 579.18,1314.97 579.80,1313.60 C580.42,1312.23 580.70,1310.85 581.20,1309.50 C581.70,1308.15 582.53,1306.17 582.80,1305.50" fill="none" stroke="#1c1a1a" stroke-width="2.5" stroke-linecap="round"/><path d="M396.80,1500.00 C398.67,1498.77 403.88,1494.97 408.00,1492.60 C412.12,1490.23 416.67,1487.93 421.50,1485.80 C426.33,1483.67 431.82,1481.62 437.00,1479.80 C442.18,1477.98 447.43,1476.23 452.60,1474.90 C457.77,1473.57 462.70,1472.63 468.00,1471.80 C473.30,1470.97 479.07,1470.43 484.40,1469.90 C489.73,1469.37 494.67,1469.10 500.00,1468.60 C505.33,1468.10 511.07,1467.85 516.40,1466.90 C521.73,1465.95 526.73,1464.83 532.00,1462.90 C537.27,1460.97 544.33,1457.45 548.00,1455.30 C551.67,1453.15 552.08,1451.92 554.00,1450.00 C555.92,1448.08 557.75,1445.97 559.50,1443.80 C561.25,1441.63 562.95,1439.30 564.50,1437.00 C566.05,1434.70 567.33,1432.83 568.80,1430.00 C570.27,1427.17 572.10,1423.33 573.30,1420.00 C574.50,1416.67 575.17,1413.00 576.00,1410.00 C576.83,1407.00 577.62,1404.50 578.30,1402.00 C578.98,1399.50 579.43,1398.67 580.10,1395.00 C580.77,1391.33 581.70,1385.00 582.30,1380.00 C582.90,1375.00 583.40,1371.33 583.70,1365.00 C584.00,1358.67 584.07,1349.50 584.10,1342.00 C584.13,1334.50 584.02,1326.90 583.90,1320.00 C583.78,1313.10 583.48,1303.83 583.40,1300.60" fill="none" stroke="#1c1a1a" stroke-width="2.4" stroke-linecap="butt"/><text x="424.90" y="1329.50" font-size="8.2" textLength="24.40" lengthAdjust="spacingAndGlyphs" fill="#222">Tj=100</text><text x="449.60" y="1325.60" font-size="5.2" textLength="2.60" lengthAdjust="spacingAndGlyphs" fill="#222">o</text><text x="452.40" y="1329.50" font-size="8.2" textLength="5.20" lengthAdjust="spacingAndGlyphs" fill="#222">C</text><text x="431.40" y="1465.00" font-size="8.2" textLength="20.40" lengthAdjust="spacingAndGlyphs" fill="#222">Tj=25</text><text x="452.00" y="1461.00" font-size="5.2" textLength="2.60" lengthAdjust="spacingAndGlyphs" fill="#222">o</text><text x="454.80" y="1465.00" font-size="8.2" textLength="5.20" lengthAdjust="spacingAndGlyphs" fill="#222">C</text><text x="382.60" y="1302.70" font-size="9.3" text-anchor="end" textLength="8.40" lengthAdjust="spacingAndGlyphs" fill="#222">10</text><text x="382.60" y="1369.00" font-size="9.3" text-anchor="end" textLength="11.00" lengthAdjust="spacingAndGlyphs" fill="#222">1.0</text><text x="382.60" y="1436.80" font-size="9.3" text-anchor="end" textLength="11.00" lengthAdjust="spacingAndGlyphs" fill="#222">0.1</text><text x="382.60" y="1503.70" font-size="9.3" text-anchor="end" textLength="10.40" lengthAdjust="spacingAndGlyphs" fill="#222">.01</text><text x="389.70" y="1528.00" font-size="9.8" text-anchor="middle" textLength="4.80" lengthAdjust="spacingAndGlyphs" fill="#222">0</text><text x="419.60" y="1528.00" font-size="9.8" text-anchor="middle" textLength="9.20" lengthAdjust="spacingAndGlyphs" fill="#222">20</text><text x="451.00" y="1528.00" font-size="9.8" text-anchor="middle" textLength="9.20" lengthAdjust="spacingAndGlyphs" fill="#222">40</text><text x="482.70" y="1528.00" font-size="9.8" text-anchor="middle" textLength="9.20" lengthAdjust="spacingAndGlyphs" fill="#222">60</text><text x="514.40" y="1528.00" font-size="9.8" text-anchor="middle" textLength="9.20" lengthAdjust="spacingAndGlyphs" fill="#222">80</text><text x="544.60" y="1528.00" font-size="9.8" text-anchor="middle" textLength="14.40" lengthAdjust="spacingAndGlyphs" fill="#222">100</text><text x="576.30" y="1528.00" font-size="9.8" text-anchor="middle" textLength="14.40" lengthAdjust="spacingAndGlyphs" fill="#222">120</text><text x="609.50" y="1528.00" font-size="9.8" text-anchor="middle" textLength="14.40" lengthAdjust="spacingAndGlyphs" fill="#222">140</text><text x="417.10" y="1543.50" font-size="12.6" textLength="143.70" lengthAdjust="spacingAndGlyphs" fill="#222">Percent of Rated Peak  Reverse</text><text x="417.10" y="1558.60" font-size="12.6" textLength="51.20" lengthAdjust="spacingAndGlyphs" fill="#222">Voltage, %</text><text x="346.00" y="1419.10" font-size="12.6" textLength="101.10" lengthAdjust="spacingAndGlyphs" fill="#222" transform="rotate(-90 346.00 1419.10)">Instantaneous Reverse</text><text x="361.10" y="1419.10" font-size="12.6" textLength="83.80" lengthAdjust="spacingAndGlyphs" fill="#222" transform="rotate(-90 361.10 1419.10)">Current ,Amperes</text></g>
</svg>
<div class="t" style="left:308.90px;top:40.00px;font-size:21px;font-weight:bold;letter-spacing:0.2px;">KBPC50005W THRU KBPC5010W</div>
<div class="t" style="left:360.10px;top:80.00px;font-size:16px;font-weight:bold;">SILICON BRIDGE RECTIFIERS</div>
<div class="t" style="left:279.30px;top:103.00px;font-size:12px;font-style:italic;">Reverse Voltage - 50 to 1000 Volts</div>
<div class="t" style="left:478.10px;top:103.00px;font-size:12px;font-style:italic;">Forward Current - 50.0 Amperes</div>
<div class="t" style="left:455.40px;top:136.00px;font-size:13.5px;font-weight:bold;">FEATURES</div>
<div class="t" style="left:348.40px;top:159.00px;font-size:12px;">The plastic package carries Underwriters Laboratory</div>
<div class="t" style="left:348.40px;top:171.00px;font-size:12px;">Flammability Classification 94V-0</div>
<div class="t" style="left:348.40px;top:183.00px;font-size:12px;">Ideal for printed circuit boards</div>
<div class="t" style="left:348.40px;top:195.00px;font-size:12px;">Low reverse leakage</div>
<div class="t" style="left:348.40px;top:207.00px;font-size:12px;">High forward surge current capability</div>
<div class="t" style="left:348.40px;top:219.00px;font-size:12px;">High temperature soldering guaranteed:</div>
<div class="t" style="left:348.40px;top:231.00px;font-size:12px;">260<span style="letter-spacing:-1.6px">°</span>C/10 seconds,at 5 lbs. (2.3kg) tension</div>
<div class="t" style="left:419.30px;top:294.00px;font-size:13.5px;font-weight:bold;">MECHANICAL DATA</div>
<div class="t" style="left:332.70px;top:320.00px;font-size:12px;"><b>Case</b>:Metal case</div>
<div class="t" style="left:332.70px;top:332.00px;font-size:12px;"><b>Terminals</b>: Lead 0.040"   (1.02mm) diameter.</div>
<div class="t" style="left:332.70px;top:344.00px;font-size:12px;"><b>Polarity</b>: Polarity symbols marked on case</div>
<div class="t" style="left:332.70px;top:356.00px;font-size:12px;"><b>Mounting</b>:Thru hole for #8 screw,20in.-lbs. torque max.</div>
<div class="t" style="left:332.70px;top:368.00px;font-size:12px;"><b>Weight</b>:0.93 ounce, 26.4 grams</div>
<div class="t" style="left:159.40px;top:414.00px;font-size:13.35px;font-weight:bold;">MAXIMUM RATINGS AND ELECTRICAL CHARACTERISTICS</div>
<div class="t" style="left:42.40px;top:433.00px;font-size:10.7px;">Ratings at 25<span style="letter-spacing:-1.4px">°</span>C ambient temperature unless otherwise specified.</div>
<div class="t" style="left:42.40px;top:444.00px;font-size:10.7px;">Single phase half-wave 60Hz,resistive or inductive load,for current capacitive load current derate by 20%.</div>
<div class="t" style="left:42.50px;top:472.00px;font-size:10.7px;">Catalog</div>
<div class="t" style="left:112.00px;top:472.00px;font-size:10.7px;">Number</div>
<div class="t" style="left:305.40px;top:468.00px;font-size:9px;font-style:italic;transform-origin:50% 50%;transform:translateX(-50%) scaleX(0.885);">SYMBOLS</div>
<div class="t" style="left:350.00px;top:465.00px;font-size:8.6px;font-weight:bold;transform-origin:50% 50%;transform:translateX(-50%) scaleX(0.9);">KBPC</div>
<div class="t" style="left:350.00px;top:473.00px;font-size:8.6px;font-weight:bold;transform-origin:50% 50%;transform:translateX(-50%) scaleX(0.9);">50005W</div>
<div class="t" style="left:391.80px;top:465.00px;font-size:8.6px;font-weight:bold;transform-origin:50% 50%;transform:translateX(-50%) scaleX(0.9);">KBPC</div>
<div class="t" style="left:391.80px;top:473.00px;font-size:8.6px;font-weight:bold;transform-origin:50% 50%;transform:translateX(-50%) scaleX(0.9);">5001W</div>
<div class="t" style="left:431.40px;top:464.00px;font-size:8.6px;font-weight:bold;transform-origin:50% 50%;transform:translateX(-50%) scaleX(0.9);">KBPC</div>
<div class="t" style="left:431.40px;top:472.00px;font-size:8.6px;font-weight:bold;transform-origin:50% 50%;transform:translateX(-50%) scaleX(0.9);">5002W</div>
<div class="t" style="left:470.80px;top:464.00px;font-size:8.6px;font-weight:bold;transform-origin:50% 50%;transform:translateX(-50%) scaleX(0.9);">KBPC</div>
<div class="t" style="left:470.80px;top:472.00px;font-size:8.6px;font-weight:bold;transform-origin:50% 50%;transform:translateX(-50%) scaleX(0.9);">5004W</div>
<div class="t" style="left:510.90px;top:464.00px;font-size:8.6px;font-weight:bold;transform-origin:50% 50%;transform:translateX(-50%) scaleX(0.9);">KBPC</div>
<div class="t" style="left:510.90px;top:472.00px;font-size:8.6px;font-weight:bold;transform-origin:50% 50%;transform:translateX(-50%) scaleX(0.9);">5006W</div>
<div class="t" style="left:551.00px;top:464.00px;font-size:8.6px;font-weight:bold;transform-origin:50% 50%;transform:translateX(-50%) scaleX(0.9);">KBPC</div>
<div class="t" style="left:551.00px;top:472.00px;font-size:8.6px;font-weight:bold;transform-origin:50% 50%;transform:translateX(-50%) scaleX(0.9);">5008W</div>
<div class="t" style="left:589.60px;top:464.00px;font-size:8.6px;font-weight:bold;transform-origin:50% 50%;transform:translateX(-50%) scaleX(0.9);">KBPC</div>
<div class="t" style="left:589.60px;top:472.00px;font-size:8.6px;font-weight:bold;transform-origin:50% 50%;transform:translateX(-50%) scaleX(0.9);">5010W</div>
<div class="t" style="left:630.20px;top:468.00px;font-size:10.4px;font-weight:bold;transform:translateX(-50%);">UNITS</div>
<div class="t" style="left:41.00px;top:487.00px;font-size:10.7px;">Maximum repetitive peak reverse voltage</div>
<div class="t" style="left:350.30px;top:489.00px;font-size:10.7px;transform:translateX(-50%);">50</div>
<div class="t" style="left:392.10px;top:489.00px;font-size:10.7px;transform:translateX(-50%);">100</div>
<div class="t" style="left:431.70px;top:489.00px;font-size:10.7px;transform:translateX(-50%);">200</div>
<div class="t" style="left:471.10px;top:489.00px;font-size:10.7px;transform:translateX(-50%);">400</div>
<div class="t" style="left:511.20px;top:489.00px;font-size:10.7px;transform:translateX(-50%);">600</div>
<div class="t" style="left:551.30px;top:489.00px;font-size:10.7px;transform:translateX(-50%);">800</div>
<div class="t" style="left:590.90px;top:489.00px;font-size:10.7px;transform:translateX(-50%);">1000</div>
<div class="t" style="left:630.20px;top:488.00px;font-size:10.4px;transform:translateX(-50%);">VOLTS</div>
<div class="t" style="left:306.60px;top:487px;font-size:10.8px;transform:translateX(-50%);">V<span style="font-size:7.0px;font-weight:bold;letter-spacing:-0.3px;position:relative;top:0.0px;">RRM</span></div>
<div class="t" style="left:41.00px;top:502.00px;font-size:10.7px;">Maximum RMS voltage</div>
<div class="t" style="left:350.30px;top:504.00px;font-size:10.7px;transform:translateX(-50%);">35</div>
<div class="t" style="left:392.10px;top:504.00px;font-size:10.7px;transform:translateX(-50%);">70</div>
<div class="t" style="left:431.70px;top:504.00px;font-size:10.7px;transform:translateX(-50%);">140</div>
<div class="t" style="left:471.10px;top:504.00px;font-size:10.7px;transform:translateX(-50%);">280</div>
<div class="t" style="left:511.20px;top:504.00px;font-size:10.7px;transform:translateX(-50%);">420</div>
<div class="t" style="left:551.30px;top:504.00px;font-size:10.7px;transform:translateX(-50%);">560</div>
<div class="t" style="left:590.90px;top:504.00px;font-size:10.7px;transform:translateX(-50%);">700</div>
<div class="t" style="left:630.20px;top:502.00px;font-size:10.4px;transform:translateX(-50%);">VOLTS</div>
<div class="t" style="left:306.60px;top:502px;font-size:10.8px;transform:translateX(-50%);">V<span style="font-size:7.0px;font-weight:bold;letter-spacing:-0.3px;position:relative;top:0.0px;">RMS</span></div>
<div class="t" style="left:41.00px;top:517.00px;font-size:10.7px;">Maximum DC blocking voltage</div>
<div class="t" style="left:350.30px;top:518.00px;font-size:10.7px;transform:translateX(-50%);">50</div>
<div class="t" style="left:392.10px;top:518.00px;font-size:10.7px;transform:translateX(-50%);">100</div>
<div class="t" style="left:431.70px;top:518.00px;font-size:10.7px;transform:translateX(-50%);">200</div>
<div class="t" style="left:471.10px;top:518.00px;font-size:10.7px;transform:translateX(-50%);">400</div>
<div class="t" style="left:511.20px;top:518.00px;font-size:10.7px;transform:translateX(-50%);">600</div>
<div class="t" style="left:551.30px;top:518.00px;font-size:10.7px;transform:translateX(-50%);">800</div>
<div class="t" style="left:590.90px;top:518.00px;font-size:10.7px;transform:translateX(-50%);">1000</div>
<div class="t" style="left:630.20px;top:517.00px;font-size:10.4px;transform:translateX(-50%);">VOLTS</div>
<div class="t" style="left:306.60px;top:516px;font-size:10.8px;transform:translateX(-50%);">V<span style="font-size:7.0px;font-weight:bold;letter-spacing:-0.3px;position:relative;top:0.0px;">DC</span></div>
<div class="t" style="left:41.00px;top:531.00px;font-size:10.7px;">Maximum average forward output rectified</div>
<div class="t" style="left:41.00px;top:546.00px;font-size:10.7px;">current at  Tc=50<span style="letter-spacing:-1.4px">°</span>C  (Note 1,2)</div>
<div class="t" style="left:41.00px;top:560.00px;font-size:10.7px;">Peak forward surge current</div>
<div class="t" style="left:41.00px;top:575.00px;font-size:10.7px;">8.3ms single half sine-wave superimposed on</div>
<div class="t" style="left:41.00px;top:590.00px;font-size:10.7px;">rated load (JEDEC Method)</div>
<div class="t" style="left:41.00px;top:604.00px;font-size:10.7px;">Rating for Fusing(t&lt;8.3ms)</div>
<div class="t" style="left:41.00px;top:619.00px;font-size:10.7px;">Maximum instantaneous forward voltage dorp</div>
<div class="t" style="left:41.00px;top:634.00px;font-size:10.7px;">per bridge element at 25A</div>
<div class="t" style="left:41.00px;top:648.00px;font-size:10.7px;">Maximum DC reverse current</div>
<div class="t" style="left:41.00px;top:663.00px;font-size:10.7px;">at rated DC blocking voltage</div>
<div class="t" style="left:41.00px;top:678.00px;font-size:10.7px;">Isolation voltage from case to leads</div>
<div class="t" style="left:41.00px;top:692.00px;font-size:10.7px;">Typical Thermal Resistance (Note 2)</div>
<div class="t" style="left:41.00px;top:707.00px;font-size:10.7px;">Operating junction temperature range</div>
<div class="t" style="left:41.00px;top:722.00px;font-size:10.7px;">storage temperature range</div>
<div class="t" style="left:197.0px;top:648px;font-size:10.7px;">T<span style="font-size:8.2px;">A</span>=25<span style="letter-spacing:-1.4px">°</span>C</div>
<div class="t" style="left:197.0px;top:663px;font-size:10.7px;">T<span style="font-size:8.2px;">A</span>=100<span style="letter-spacing:-1.4px">°</span>C</div>
<div class="t" style="left:306.40px;top:539px;font-size:10.8px;transform:translateX(-50%);">I<span style="font-size:7.0px;font-weight:bold;letter-spacing:-0.3px;position:relative;top:0.4px;">(AV)</span></div>
<div class="t" style="left:306.20px;top:576px;font-size:10.8px;transform:translateX(-50%);">I<span style="font-size:7.0px;font-weight:bold;letter-spacing:-0.3px;position:relative;top:0.0px;">FSM</span></div>
<div class="t" style="left:306.6px;top:607px;font-size:10.4px;transform:translateX(-50%);">I<span style="font-size:5.5px;position:relative;top:-4.2px;">2</span>t</div>
<div class="t" style="left:305.60px;top:627px;font-size:10.8px;transform:translateX(-50%);">V<span style="font-size:7.0px;font-weight:bold;letter-spacing:-0.3px;position:relative;top:0.0px;">F</span></div>
<div class="t" style="left:306.30px;top:656px;font-size:10.8px;transform:translateX(-50%);">I<span style="font-size:7.0px;font-weight:bold;letter-spacing:-0.3px;position:relative;top:0.0px;">R</span></div>
<div class="t" style="left:306.10px;top:678px;font-size:10.8px;transform:translateX(-50%);">V<span style="font-size:7.0px;font-weight:bold;letter-spacing:-0.3px;position:relative;top:0.0px;">ISO</span></div>
<div class="t" style="left:306.80px;top:693px;font-size:10.8px;transform:translateX(-50%);">R<span style="font-size:7.0px;font-weight:bold;letter-spacing:-0.3px;position:relative;top:0.0px;">θJA</span></div>
<div class="t" style="left:306.30px;top:707px;font-size:10.8px;transform:translateX(-50%);">T<span style="font-size:7.0px;font-weight:bold;letter-spacing:-0.3px;position:relative;top:0.0px;">J</span></div>
<div class="t" style="left:306.60px;top:722px;font-size:10.8px;transform:translateX(-50%);">T<span style="font-size:7.0px;font-weight:bold;letter-spacing:-0.3px;position:relative;top:0.0px;">STG</span></div>
<div class="t" style="left:471.00px;top:539.00px;font-size:10.7px;transform:translateX(-50%);">50</div>
<div class="t" style="left:473.50px;top:577.00px;font-size:10.7px;transform:translateX(-50%);">400.0</div>
<div class="t" style="left:472.80px;top:607.00px;font-size:10.7px;transform:translateX(-50%);">664</div>
<div class="t" style="left:474.50px;top:627.00px;font-size:10.7px;transform:translateX(-50%);">1.1</div>
<div class="t" style="left:473.20px;top:651.00px;font-size:10.7px;transform:translateX(-50%);">10</div>
<div class="t" style="left:474.20px;top:665.00px;font-size:10.7px;transform:translateX(-50%);">1.0</div>
<div class="t" style="left:473.10px;top:680.00px;font-size:10.7px;transform:translateX(-50%);">2500</div>
<div class="t" style="left:473.60px;top:695.00px;font-size:10.7px;transform:translateX(-50%);">2.0</div>
<div class="t" style="left:473.30px;top:709.00px;font-size:10.7px;transform:translateX(-50%);">-65 to +150</div>
<div class="t" style="left:473.30px;top:724.00px;font-size:10.7px;transform:translateX(-50%);">-65 to +150</div>
<div class="t" style="left:613.40px;top:540.00px;font-size:10.7px;">Amps</div>
<div class="t" style="left:611.20px;top:576.00px;font-size:10.7px;">Amps</div>
<div class="t" style="left:617.6px;top:606px;font-size:10.7px;">A<span style="font-size:5.5px;position:relative;top:-4.4px;">2</span>s</div>
<div class="t" style="left:613.60px;top:627.00px;font-size:10.7px;">Volts</div>
<div class="t" style="left:618.60px;top:649.00px;font-size:10.7px;letter-spacing:0.8px;">µA</div>
<div class="t" style="left:617.80px;top:663.00px;font-size:10.7px;">mA</div>
<div class="t" style="left:619.4px;top:680px;font-size:10.7px;">V<span style="font-size:6.6px;font-weight:bold;">AC</span></div>
<div class="t" style="left:615.80px;top:695.00px;font-size:10.7px;">°C/W</div>
<div class="t" style="left:619.60px;top:709.00px;font-size:10.7px;">°C</div>
<div class="t" style="left:619.80px;top:724.00px;font-size:10.7px;">°C</div>
<div class="t" style="left:44.20px;top:740.00px;font-size:10.7px;">NOTES:</div>
<div class="t" style="left:44.20px;top:751.00px;font-size:10.7px;">1.Unit mounted on 9"   x 3.5"<span style="letter-spacing:0.5px">   </span>x4.6"<span style="letter-spacing:0.7px">   </span>thick(23cmx9cmx11.8cmcm)Al.plate.</div>
<div class="t" style="left:44.20px;top:761.00px;font-size:10.7px;">2.Bolt dowm on heat-sink with silicone thermal compound between bridge and mounting surface for</div>
<div class="t" style="left:53.40px;top:772.00px;font-size:10.7px;">maximum heat transfer efficiency with #8 screw.</div>
<div class="t" style="left:303.60px;top:830.00px;font-size:13.4px;">www.ejiguan.cn</div>
<div class="t" style="left:144.00px;top:928.00px;font-size:11.75px;font-weight:bold;">RATINGS AND CHARACTERISTIC CURVES KBPC50005W THRU KBPC5010W</div>
<div class="t" style="left:105.30px;top:980.00px;font-size:12.75px;font-weight:bold;">Fig. 1 Derating Curve for</div>
<div class="t" style="left:140.20px;top:996.00px;font-size:12.75px;font-weight:bold;">Output Rectified Current</div>
<div class="t" style="left:386.00px;top:986.00px;font-size:12.75px;font-weight:bold;">Fig. 2 Maximum Non-repetitive Peak</div>
<div class="t" style="left:419.50px;top:1002.00px;font-size:12.75px;font-weight:bold;">Forward Surge Current</div>
<div class="t" style="left:110.50px;top:1250.00px;font-size:12.75px;font-weight:bold;">Fig. 3 Typical Instantaneous</div>
<div class="t" style="left:148.50px;top:1265.00px;font-size:12.75px;font-weight:bold;letter-spacing:-0.15px;">Forward Characteristics</div>
<div class="t" style="left:400.50px;top:1255.00px;font-size:12.75px;font-weight:bold;">Fig. 4 Typical Reverse</div>
<div class="t" style="left:438.5px;top:1269px;font-size:12.75px;font-weight:bold;">Characteristics at<span style="letter-spacing:2.2px"> </span>Tj=25<span style="font-size:8px;position:relative;top:-4.6px;margin-left:0.2px;margin-right:-0.4px">O</span>C</div>
<div class="t" style="left:52.60px;top:1590.00px;font-size:10.7px;">The cruve graph is for reference only, can't be the basis for judgment(</div>
<div class="t" style="left:453.40px;top:1590.00px;font-size:10.7px;">)!</div>
<div class="t" style="left:303.60px;top:1650.00px;font-size:13.4px;">www.ejiguan.cn</div>
</body></html>
